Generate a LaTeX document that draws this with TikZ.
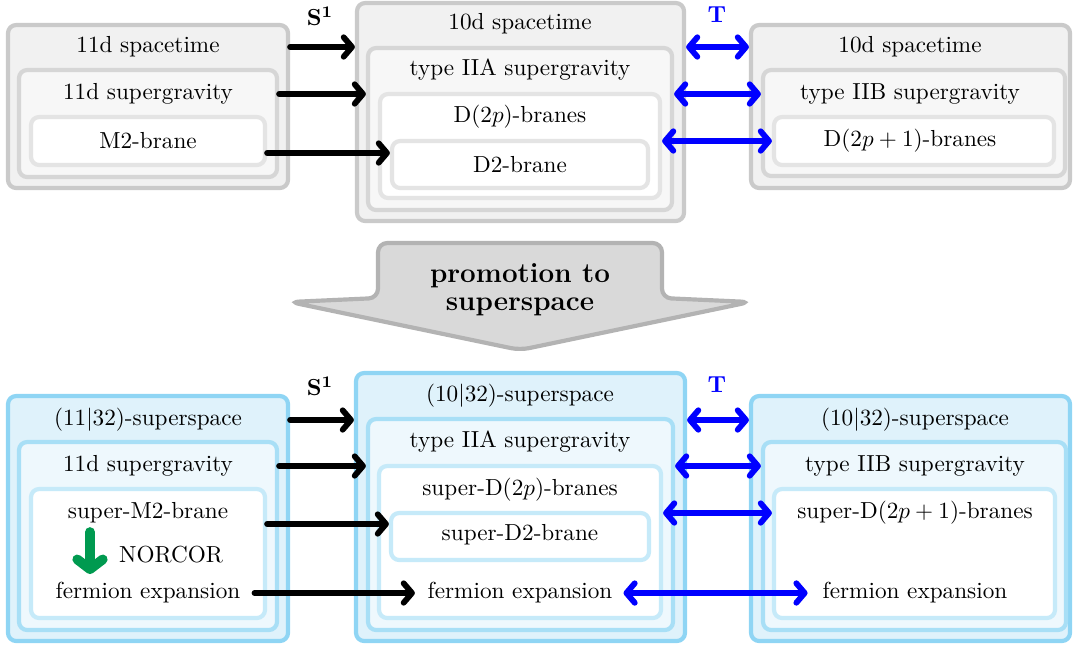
\documentclass[tikz,border=0pt]{standalone}
\usetikzlibrary{arrows.meta,fit}
\definecolor{gF1}{HTML}{F1F1F1}
\definecolor{gB1}{HTML}{CACACA}
\definecolor{gF2}{HTML}{F7F7F7}
\definecolor{gB2}{HTML}{D6D6D6}
\definecolor{gB3}{HTML}{E4E4E4}
\definecolor{bF1}{HTML}{DFF2FB}
\definecolor{bB1}{HTML}{8FD5F4}
\definecolor{bF2}{HTML}{EEF8FD}
\definecolor{bB2}{HTML}{A8DFF6}
\definecolor{bB3}{HTML}{C6EAF9}
\definecolor{arF}{HTML}{D9D9D9}
\definecolor{arB}{HTML}{B3B3B3}
\definecolor{norc}{HTML}{009A50}
\begin{document}
\begin{tikzpicture}[x=0.431pt,y=-0.431pt,
  bx/.style={rounded corners=3.5pt, inner sep=0pt, line width=1.8pt},
  g1/.style={bx, draw=gB1, fill=gF1},
  g2/.style={bx, draw=gB2, fill=gF2},
  g3/.style={bx, draw=gB3, fill=white},
  b1/.style={bx, draw=bB1, fill=bF1},
  b2/.style={bx, draw=bB2, fill=bF2},
  b3/.style={bx, draw=bB3, fill=white},
  tip/.tip={Straight Barb[length=3.6pt,width=8.4pt,round]},
  blk/.style={line width=2.5pt, line cap=round, -tip},
  blu/.style={draw=blue, line width=2.5pt, line cap=round, tip-tip},
  lab/.style={inner sep=1pt}
]
\useasboundingbox (0,0) rectangle (1073,644);

% ---------------- top row ----------------
\node[g1, fit={(8,25) (288,188)}] (A) {};
\node[g2, fit={(19,70) (277,177)}] (A2) {};
\node[g3, fit={(31,117) (265,165)}] (A3) {};
\node (At) at (148,47) {11d spacetime};
\node (A2t) at (148,94) {11d supergravity};
\node (A3t) at (148,141) {M2-brane};

\node[g1, fit={(357,3) (684,221)}] (B) {};
\node[g2, fit={(368,48) (672,210)}] (B2) {};
\node[g3, fit={(380,94) (660,198)}] (B3) {};
\node[g3, fit={(392,141) (648,188)}] (B4) {};
\node (Bt) at (520,24) {10d spacetime};
\node (B2t) at (520,70) {type IIA supergravity};
\node (B3t) at (520,117) {D($2p$)-branes};
\node (B4t) at (520,165) {D2-brane};

\node[g1, fit={(751,25) (1070,188)}] (C) {};
\node[g2, fit={(763,70) (1065,176)}] (C2) {};
\node[g3, fit={(774,117) (1054,165)}] (C3) {};
\node (Ct) at (910,47) {10d spacetime};
\node (C2t) at (910,94) {type IIB supergravity};
\node (C3t) at (910,141) {D($2p+1$)-branes};

\node[lab] (S1) at (320,16) {$\mathbf{S^1}$};
\node[lab, text=blue] (T1) at (717,15) {$\mathbf{T}$};

\coordinate (m1) at (0,153);
\draw[blk] (A.east |- At) -- (B.west |- At);
\draw[blk] (A2.east |- A2t) -- (B2.west |- A2t);
\draw[blk] (A3.east |- m1) -- (B4.west |- m1);
\draw[blu] (B.east |- Ct) -- (C.west |- Ct);
\draw[blu] (B2.east |- C2t) -- (C2.west |- C2t);
\draw[blu] (B3.east |- C3t) -- (C3.west |- C3t);

% ---------------- big arrow ----------------
\draw[line width=1.8pt, draw=arB, fill=arF, rounded corners=4pt]
  (378,243) -- (662,243) -- (662,298) -- (750,302) -- (520,350)
  -- (290,302) -- (378,298) -- cycle;
\node[align=center, font=\large\bfseries, inner sep=0pt] (P) at (520,290)
  {promotion to\\[-2pt]superspace};

% ---------------- bottom row ----------------
\node[b1, fit={(8,396) (288,641)}] (D) {};
\node[b2, fit={(19,442) (277,630)}] (D2) {};
\node[b3, fit={(31,489) (265,618)}] (D3) {};
\node (Dt) at (148,420) {(11$|$32)-superspace};
\node (D2t) at (148,466) {11d supergravity};
\node (D3t) at (148,513) {super-M2-brane};
\node (Nc) at (171,555) {NORCOR};
\node (Df) at (148,593) {fermion expansion};
\coordinate (g1) at (90,532);
\coordinate (g2) at (90,574);
\draw[draw=norc, line width=4.2pt, -{Straight Barb[length=4.2pt,width=11pt,round]}, line cap=round] (g1) -- (g2);

\node[b1, fit={(356,373) (685,641)}] (E) {};
\node[b2, fit={(368,419) (673,630)}] (E2) {};
\node[b3, fit={(379,466) (661,618)}] (E3) {};
\node[b3, fit={(391,513) (649,560)}] (E4) {};
\node (Et) at (520,396) {(10$|$32)-superspace};
\node (E2t) at (520,442) {type IIA supergravity};
\node (E3t) at (520,490) {super-D($2p$)-branes};
\node (E4t) at (520,535) {super-D2-brane};
\node (Ef) at (520,593) {fermion expansion};

\node[b1, fit={(751,396) (1070,641)}] (F) {};
\node[b2, fit={(763,442) (1066,630)}] (F2) {};
\node[b3, fit={(774,489) (1055,618)}] (F3) {};
\node (Ft) at (915,420) {(10$|$32)-superspace};
\node (F2t) at (915,466) {type IIB supergravity};
\node (F3t) at (915,513) {super-D($2p+1$)-branes};
\node (Ff) at (915,593) {fermion expansion};

\node[lab] (S2) at (320,386) {$\mathbf{S^1}$};
\node[lab, text=blue] (T2) at (717,385) {$\mathbf{T}$};

\coordinate (m2) at (0,524);
\draw[blk] (D.east |- Dt) -- (E.west |- Dt);
\draw[blk] (D2.east |- D2t) -- (E2.west |- D2t);
\draw[blk] (D3.east |- m2) -- (E4.west |- m2);
\draw[blk, shorten <=2.6pt, shorten >=2pt] (Df) -- (Ef);
\draw[blu] (E.east |- Ft) -- (F.west |- Ft);
\draw[blu] (E2.east |- F2t) -- (F2.west |- F2t);
\draw[blu] (E3.east |- F3t) -- (F3.west |- F3t);
\draw[blu, shorten <=1.3pt, shorten >=3pt] (Ef) -- (Ff);
\end{tikzpicture}
\end{document}
